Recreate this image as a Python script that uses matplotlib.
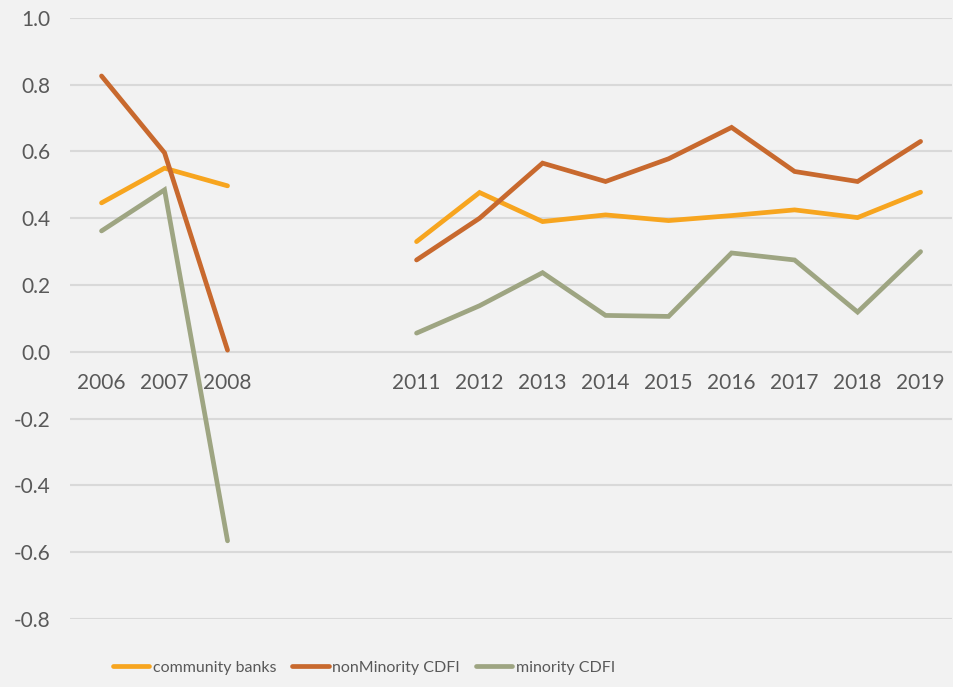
import numpy as np
import matplotlib
matplotlib.use("Agg")
from matplotlib import pyplot as plt

plt.rcParams['font.family'] = ['Lato', 'DejaVu Sans']

years = ['2006', '2007', '2008', '', '', '2011', '2012', '2013', '2014',
         '2015', '2016', '2017', '2018', '2019']
nan = np.nan
community_banks = [0.446, 0.55, 0.497, nan, nan, 0.33, 0.477, 0.39, 0.41,
                   0.393, 0.408, 0.425, 0.402, 0.478]
non_minority = [0.826, 0.596, 0.005, nan, nan, 0.275, 0.40, 0.565, 0.51,
                0.578, 0.672, 0.54, 0.51, 0.63]
minority = [0.362, 0.485, -0.566, nan, nan, 0.056, 0.138, 0.237, 0.109,
            0.106, 0.296, 0.275, 0.119, 0.30]
y_ticks = [-0.8, -0.6, -0.4, -0.2, 0.0, 0.2, 0.4, 0.6, 0.8, 1.0]

bg = '#f2f2f2'
txt = '#595959'

fig = plt.figure(figsize=(9.54, 6.87), dpi=100, facecolor=bg)
ax = fig.add_axes([0.0734, 0.099, 0.9246, 0.875], facecolor=bg)

x = np.arange(len(years))
lw = 3.4
ax.plot(x, community_banks, color='#f7a51f', lw=lw, solid_capstyle='round',
        solid_joinstyle='miter', label='community banks', zorder=3)
ax.plot(x, non_minority, color='#c8692e', lw=lw, solid_capstyle='round',
        solid_joinstyle='miter', label='nonMinority CDFI', zorder=3)
ax.plot(x, minority, color='#9ea582', lw=lw, solid_capstyle='round',
        solid_joinstyle='miter', label='minority CDFI', zorder=3)

ax.set_xlim(-0.5, len(years) - 0.5)
ax.set_ylim(-0.8, 1.0)
ax.set_yticks(y_ticks)
ax.set_yticklabels(['%.1f' % v for v in y_ticks])
ax.yaxis.grid(True, color='#d9d9d9', lw=1.5, zorder=0)
ax.set_axisbelow(True)

# category labels sit just under the zero line
ax.spines['bottom'].set_position(('data', 0))
for s in ax.spines.values():
    s.set_visible(False)
ax.set_xticks(x)
ax.set_xticklabels(years)
ax.tick_params(axis='x', length=0, pad=15, labelsize=15, labelcolor=txt)
ax.tick_params(axis='y', length=0, pad=14, labelsize=15, labelcolor=txt)

leg = fig.legend(loc='center left', bbox_to_anchor=(0.118, 0.028), ncol=3,
                 frameon=False, fontsize=11.5, handlelength=2.3,
                 handletextpad=0.2, columnspacing=1.0,
                 borderpad=0, borderaxespad=0)
for t in leg.get_texts():
    t.set_color(txt)

fig.savefig('out.png', dpi=100, facecolor=bg)
